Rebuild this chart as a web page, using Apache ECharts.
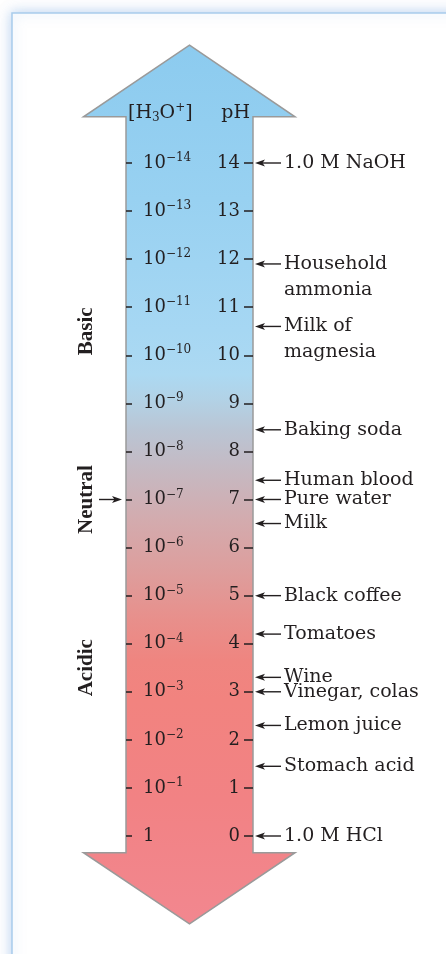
<!DOCTYPE html>
<html><head><meta charset="utf-8">
<script src="https://cdn.jsdelivr.net/npm/echarts@6/dist/echarts.min.js"></script>
<style>html,body{margin:0;padding:0;background:#fff}#c{width:446px;height:954px}</style>
</head><body><div id="c"></div>
<script>
// ---- data ----
const phTicks = [0,1,2,3,4,5,6,7,8,9,10,11,12,13,14];
const concLabels = ['1','10{s|−1}','10{s|−2}','10{s|−3}','10{s|−4}','10{s|−5}','10{s|−6}','10{s|−7}','10{s|−8}','10{s|−9}','10{s|−10}','10{s|−11}','10{s|−12}','10{s|−13}','10{s|−14}'];
const substances = ['1.0 M NaOH','Household\nammonia','Milk of\nmagnesia','Baking soda','Human blood','Pure water','Milk','Black coffee','Tomatoes','Wine','Vinegar, colas','Lemon juice','Stomach acid','1.0 M HCl'];
const substancePH = [14, 11.9, 10.6, 8.45, 7.4, 7, 6.5, 5, 4.2, 3.3, 3.0, 2.3, 1.45, 0];
const regions = ['Basic','Neutral','Acidic'];
const regionPH = [10.5, 7, 3.5];
const neutralPH = 7;

const SERIF = "'DejaVu Serif', serif";
const INK = '#231f20';
const chart = echarts.init(document.getElementById('c'));

function arrowShape(params, api) {
  const pts = [[0.5,16.45],[1.331,14.96],[1,14.96],[1,-0.348],[1.331,-0.348],[0.5,-1.83],
               [-0.335,-0.348],[0,-0.348],[0,14.96],[-0.335,14.96]].map(p => api.coord(p));
  return {
    type: 'polygon',
    shape: { points: pts },
    style: {
      fill: new echarts.graphic.LinearGradient(0,0,0,1,[
        {offset:0, color:'#8ccbef'},
        {offset:0.176, color:'#98d1f1'},
        {offset:0.324, color:'#a6d7f3'},
        {offset:0.375, color:'#acd9f2'},
        {offset:0.403, color:'#b2d2e6'},
        {offset:0.438, color:'#bac5d4'},
        {offset:0.483, color:'#c5b9c2'},
        {offset:0.54, color:'#d3abae'},
        {offset:0.597, color:'#dd9e9d'},
        {offset:0.654, color:'#e88f8b'},
        {offset:0.70, color:'#ef8580'},
        {offset:0.745, color:'#f2837f'},
        {offset:0.859, color:'#f28284'},
        {offset:1, color:'#f2878f'}
      ]),
      stroke: '#9a9a9a', lineWidth: 1.5
    }
  };
}

function leftArrow(x0, y) {
  return [
    {type:'line', shape:{x1:x0+6, y1:y, x2:x0+26, y2:y}, style:{stroke:INK, lineWidth:1.4}},
    {type:'polygon', shape:{points:[[x0,y],[x0+10,y-3.5],[x0+7.5,y],[x0+10,y+3.5]]}, style:{fill:INK}}
  ];
}

function annotations(params, api) {
  const p = api.coord([1, api.value(1)]);
  const x0 = p[0] + 2, y = p[1];
  const label = substances[params.dataIndex];
  return {type:'group', children: leftArrow(x0, y).concat([
    {type:'text', x: x0 + 29, y: y - 13,
     style:{text:label, font:'19px ' + SERIF, fill:INK, align:'left', textAlign:'left',
            verticalAlign:'top', textVerticalAlign:'top', lineHeight:26}}
  ])};
}

function regionLabels(params, api) {
  const p = api.coord([0, api.value(1)]);
  const name = regions[params.dataIndex];
  const children = [
    {type:'text', x: p[0] - 39, y: p[1], rotation: Math.PI/2,
     style:{text:name, font:"bold 21px 'Liberation Serif', serif", fill:INK,
            align:'center', textAlign:'center', verticalAlign:'middle', textVerticalAlign:'middle'}}
  ];
  if (api.value(1) === neutralPH) {
    const tx = p[0] - 4, y = p[1];
    children.push({type:'line', shape:{x1:tx-23, y1:y, x2:tx-6, y2:y}, style:{stroke:INK, lineWidth:1.4}});
    children.push({type:'polygon', shape:{points:[[tx,y],[tx-10,y-3.5],[tx-7.5,y],[tx-10,y+3.5]]}, style:{fill:INK}});
  }
  return {type:'group', children};
}

const axisCommon = {
  type:'value', min:0, max:14, interval:1, z:10,
  axisLine:{show:false, onZero:false}, splitLine:{show:false}
};

chart.setOption({
  animation:false,
  backgroundColor:'#fff',
  graphic:[{
    type:'rect', z:-100, shape:{x:12, y:13, width:480, height:990},
    style:{fill:'#fff', stroke:'#a8cceb', lineWidth:1.5, shadowBlur:12, shadowColor:'rgba(120,170,225,0.5)'}
  }],
  grid:{left:126, right:193, top:163, bottom:118},
  xAxis:{type:'value', min:0, max:1, show:false},
  yAxis:[
    Object.assign({}, axisCommon, {
      position:'right',
      name:'pH', nameLocation:'end', nameGap:39,
      nameTextStyle:{fontFamily:SERIF, fontSize:19, color:INK, align:'right', lineHeight:22, padding:[0,3,0,0]},
      axisTick:{inside:true, length:9, lineStyle:{color:INK, width:1.5}},
      axisLabel:{inside:true, margin:13, fontFamily:SERIF, fontSize:18, color:INK,
                 formatter: v => String(phTicks[v])}
    }),
    Object.assign({}, axisCommon, {
      position:'left',
      name:'[H{sub|3}O{sup|+}]', nameLocation:'end', nameGap:39,
      nameTextStyle:{fontFamily:SERIF, fontSize:19, color:INK, align:'left', lineHeight:22, padding:[0,0,0,2],
        rich:{
          sub:{fontFamily:SERIF, fontSize:12, color:INK, verticalAlign:'bottom', lineHeight:8},
          sup:{fontFamily:SERIF, fontSize:12, color:INK, verticalAlign:'top', lineHeight:14}
        }},
      axisTick:{inside:true, length:6, lineStyle:{color:INK, width:1.5}},
      axisLabel:{inside:true, margin:17, fontFamily:SERIF, fontSize:18, color:INK, lineHeight:22,
                 formatter: v => concLabels[v],
                 rich:{ s:{fontFamily:SERIF, fontSize:12, color:INK, verticalAlign:'top', lineHeight:10} }}
    })
  ],
  series:[
    {type:'custom', coordinateSystem:'cartesian2d', yAxisIndex:0, z:1, clip:false, silent:true,
     renderItem: arrowShape, data:[[0.5, 7]]},
    {type:'custom', coordinateSystem:'cartesian2d', yAxisIndex:0, z:5, clip:false, silent:true,
     renderItem: annotations, data: substancePH.map(v => [1, v])},
    {type:'custom', coordinateSystem:'cartesian2d', yAxisIndex:0, z:5, clip:false, silent:true,
     renderItem: regionLabels, data: regionPH.map(v => [0, v])}
  ]
});
</script></body></html>
